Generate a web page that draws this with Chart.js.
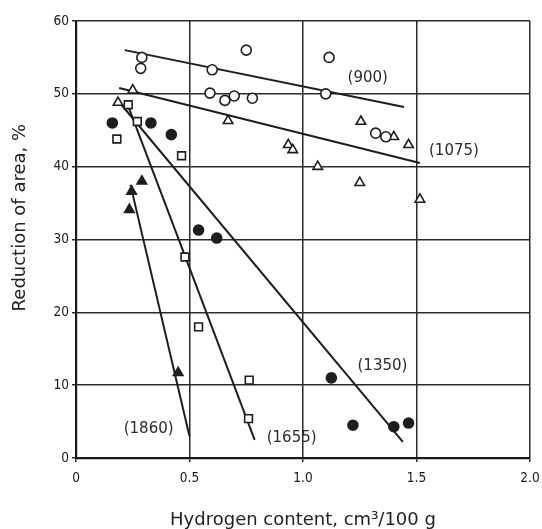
<!DOCTYPE html>
<html>
<head>
<meta charset="utf-8">
<script src="https://cdn.jsdelivr.net/npm/chart.js@4"></script>
<style>
    html, body { margin: 0; padding: 0; background: #fff; }
    #wrap { width: 542px; height: 529px; }
</style>
</head>
<body>
<div id="wrap"><canvas id="raChart"></canvas></div>
<script>
// Tick labels
const xTickLabels = ['0', '0.5', '1.0', '1.5', '2.0'];
const yTickValues = [0, 10, 20, 30, 40, 50, 60];

// Test points, one array per tempering series: [hydrogen, reduction of area]
const pts900 = [[0.29, 55.0], [0.285, 53.5], [0.60, 53.3], [0.75, 56.0], [0.59, 50.1], [0.656, 49.1],
    [0.697, 49.7], [0.777, 49.4], [1.115, 55.0], [1.10, 50.0], [1.32, 44.6], [1.365, 44.1]];
const pts1075 = [[0.25, 50.5], [0.185, 48.8], [0.67, 46.3], [0.935, 43.0], [0.955, 42.3], [1.255, 46.2],
    [1.40, 44.1], [1.465, 43.0], [1.065, 40.0], [1.25, 37.8], [1.515, 35.5]];
const pts1350 = [[0.16, 46.0], [0.33, 46.0], [0.42, 44.4], [0.54, 31.3], [0.62, 30.2], [1.125, 11.0],
    [1.22, 4.5], [1.40, 4.3], [1.465, 4.8]];
const pts1655 = [[0.23, 48.5], [0.27, 46.2], [0.18, 43.8], [0.465, 41.5], [0.48, 27.6], [0.54, 18.0],
    [0.763, 10.7], [0.76, 5.4]];
const pts1860 = [[0.29, 38.0], [0.245, 36.6], [0.235, 34.1], [0.45, 11.7]];

// Fitted trend lines (start, end)
const fit900 = [[0.215, 56.0], [1.445, 48.2]];
const fit1075 = [[0.19, 50.8], [1.515, 40.5]];
const fit1350 = [[0.2, 48.5], [1.44, 2.2]];
const fit1655 = [[0.23, 48.3], [0.787, 2.5]];
const fit1860 = [[0.24, 37.5], [0.50, 3.0]];

// Series labels and where they sit
const seriesNames = ['(900)', '(1075)', '(1350)', '(1655)', '(1860)'];
const seriesLabelPos = [[1.285, 52.2], [1.665, 42.1], [1.35, 12.6], [0.95, 2.7], [0.32, 4.0]];

const yTitle = 'Reduction of area, %';
const yTitleCenter = 33;   // in data units along the y axis

const ink = '#1e1e1e';
const toXY = arr => arr.map(p => ({ x: p[0], y: p[1] }));

function markerSet(data, style, filled, radius) {
    return {
        type: 'scatter',
        data: toXY(data),
        pointStyle: style,
        pointRadius: radius,
        pointBorderWidth: 1.6,
        pointBorderColor: ink,
        pointBackgroundColor: filled ? ink : '#fff',
        order: 1
    };
}

function fitLine(data) {
    return {
        type: 'line',
        data: toXY(data),
        borderColor: ink,
        borderWidth: 2,
        pointRadius: 0,
        fill: false,
        tension: 0,
        order: 2
    };
}

// writes the (temperature) tags next to each line, plus the y axis title
const seriesTags = {
    id: 'seriesTags',
    afterDatasetsDraw(chart) {
        const ctx = chart.ctx;
        const xs = chart.scales.x, ys = chart.scales.y;
        ctx.save();
        ctx.fillStyle = '#2a2a2a';
        ctx.font = '15px "DejaVu Sans", sans-serif';
        ctx.textAlign = 'center';
        ctx.textBaseline = 'middle';
        seriesNames.forEach((name, i) => {
            const p = seriesLabelPos[i];
            ctx.fillText(name, xs.getPixelForValue(p[0]), ys.getPixelForValue(p[1]));
        });

        ctx.fillStyle = '#222';
        ctx.font = '18px "DejaVu Sans", sans-serif';
        ctx.translate(20, ys.getPixelForValue(yTitleCenter));
        ctx.rotate(-Math.PI / 2);
        ctx.fillText(yTitle, 0, 0);
        ctx.restore();
    }
};

document.addEventListener('DOMContentLoaded', () => {
    const canvas = document.querySelector('#raChart');
    new Chart(canvas, {
        data: {
            datasets: [
                fitLine(fit900), fitLine(fit1075), fitLine(fit1350), fitLine(fit1655), fitLine(fit1860),
                markerSet(pts900, 'circle', false, 5),
                markerSet(pts1075, 'triangle', false, 5.5),
                markerSet(pts1350, 'circle', true, 5),
                markerSet(pts1655, 'rect', false, 5.5),
                markerSet(pts1860, 'triangle', true, 5.5)
            ]
        },
        options: {
            responsive: true,
            maintainAspectRatio: false,
            animation: false,
            layout: { padding: { left: 0, right: 12, top: 21, bottom: 0 } },
            scales: {
                x: {
                    type: 'linear',
                    min: 0,
                    max: 2,
                    afterFit: scale => {
                        scale.height = 71;
                        scale.paddingLeft = 0;
                        scale.paddingRight = 0;
                    },
                    afterBuildTicks: scale => {
                        scale.ticks = xTickLabels.map(t => ({ value: parseFloat(t) }));
                    },
                    ticks: {
                        color: '#1a1a1a',
                        padding: 8,
                        maxRotation: 0,
                        font: { family: '"DejaVu Sans Condensed", "DejaVu Sans", sans-serif', size: 13.5 },
                        callback: (v, i) => xTickLabels[i]
                    },
                    grid: { color: '#2b2b2b', lineWidth: 1.5, tickLength: 4, drawTicks: true },
                    border: { color: '#1a1a1a', width: 2.2 },
                    title: {
                        display: true,
                        text: 'Hydrogen content, cm\u00b3/100 g',
                        color: '#222',
                        padding: { top: 0, bottom: -2 },
                        font: { family: '"DejaVu Sans", sans-serif', size: 18 }
                    }
                },
                y: {
                    type: 'linear',
                    min: 0,
                    max: 60,
                    afterFit: scale => { scale.width = 76; },
                    afterBuildTicks: scale => {
                        scale.ticks = yTickValues.map(v => ({ value: v }));
                    },
                    ticks: {
                        color: '#1a1a1a',
                        padding: 3,
                        font: { family: '"DejaVu Sans Condensed", "DejaVu Sans", sans-serif', size: 13.5 }
                    },
                    grid: { color: '#2b2b2b', lineWidth: 1.5, tickLength: 4, drawTicks: true },
                    border: { color: '#1a1a1a', width: 2.2 },
                    title: { display: false }
                }
            },
            plugins: {
                legend: { display: false },
                tooltip: { enabled: false }
            }
        },
        plugins: [seriesTags]
    });
});
</script>
</body>
</html>
